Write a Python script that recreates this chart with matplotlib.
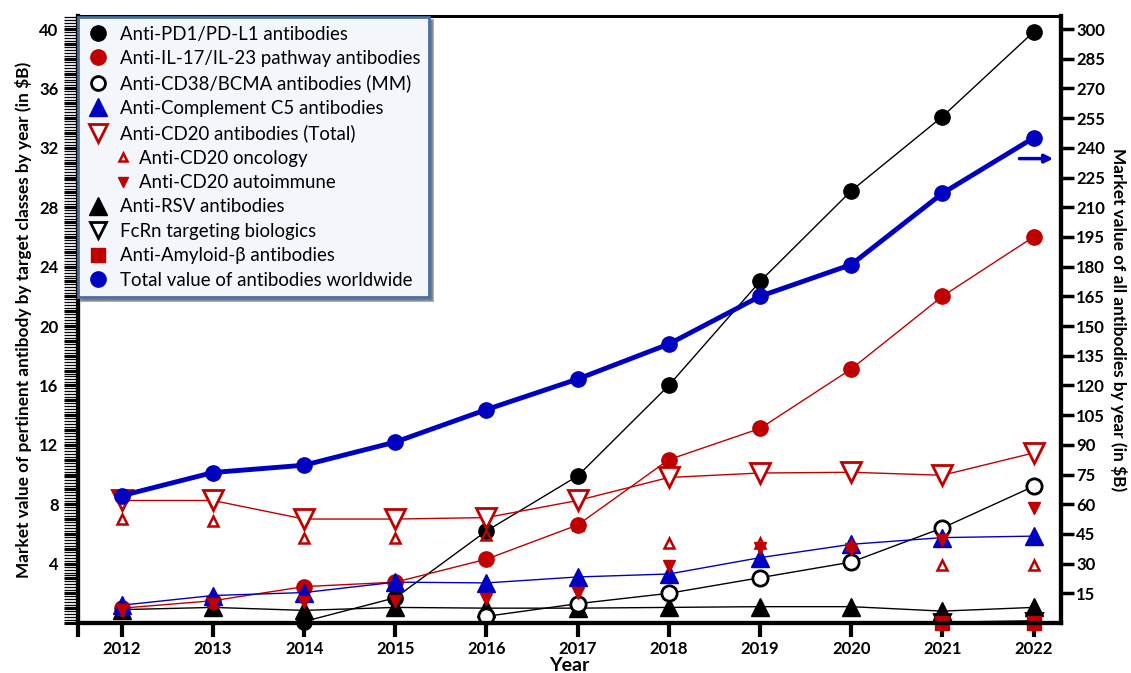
import numpy as np
import matplotlib.pyplot as plt
from matplotlib.lines import Line2D
from matplotlib.legend_handler import HandlerLine2D
from matplotlib.ticker import MultipleLocator, FuncFormatter

plt.rcParams['font.family'] = ['Lato', 'DejaVu Sans']

nan = np.nan
years = np.arange(2012, 2023)

# values in $B (left axis)
pd1 = [nan, nan, 0.1, 1.7, 6.2, 9.9, 16.0, 23.0, 29.1, 34.1, 39.8]
il17 = [1.0, 1.5, 2.45, 2.75, 4.3, 6.6, 11.0, 13.1, 17.1, 22.0, 26.0]
cd38 = [nan, nan, nan, nan, 0.45, 1.3, 2.0, 3.05, 4.1, 6.4, 9.2]
c5 = [1.2, 1.85, 2.05, 2.75, 2.7, 3.1, 3.3, 4.4, 5.3, 5.75, 5.85]
cd20_total = [8.25, 8.25, 7.0, 7.0, 7.1, 8.25, 9.8, 10.1, 10.15, 9.95, 11.45]
cd20_onc = [7.0, 6.85, 5.75, 5.7, 5.9, 6.6, 5.4, 5.4, 5.25, 3.9, 3.9]
cd20_auto = [0.9, 1.3, 1.4, 1.45, 1.6, 2.0, 3.85, 5.05, 5.0, 5.6, 7.75]
rsv = [0.9, 1.05, 0.85, 1.05, 1.0, 1.0, 1.05, 1.1, 1.1, 0.8, 1.05]
fcrn = [nan, nan, nan, nan, nan, nan, nan, nan, nan, 0.05, 0.15]
amyloid = [nan, nan, nan, nan, nan, nan, nan, nan, nan, 0.0, 0.0]
# right axis
total = [64.3, 76.0, 79.7, 91.4, 107.8, 123.2, 140.9, 165.0, 181.0, 217.0, 245.0]

RED = '#c00000'
BLUE = '#0000c0'

fig = plt.figure(figsize=(11.31, 6.73), dpi=100)
ax = fig.add_axes([0.069, 0.0743, 0.869, 0.902])
ax2 = ax.twinx()

kw = dict(clip_on=False)
ax.plot(years, rsv, '-^', color='k', lw=1, ms=13, **kw)
ax.plot(years, fcrn, '-v', color='k', mfc='none', mew=2, lw=1, ms=11, **kw)
ax.plot(years, amyloid, '-s', color=RED, lw=1.2, ms=10, **kw)
ax.plot(years, cd38, '-o', color='k', mfc='white', mew=2, lw=1, ms=11, **kw)
ax.plot(years, pd1, '-o', color='k', lw=1, ms=11, **kw)
ax.plot(years, il17, '-o', color=RED, lw=1, ms=11, **kw)
ax.plot(years, cd20_total, '-v', color=RED, mfc='white', mew=2, lw=1, ms=14, **kw)
ax.plot(years, c5, '-^', color=BLUE, lw=1, ms=13, **kw)
ax.plot(years, cd20_onc, '^', color=RED, mfc='none', mew=1.8, ms=7, **kw)
ax.plot(years, cd20_auto, 'v', color=RED, ms=8, **kw)
ax2.plot(years, total, '-o', color=BLUE, lw=3.5, ms=11, **kw)

ax.set_xlim(2011.52, 2022.3)
ax.set_ylim(0, 40.88)
ax2.set_ylim(0, 40.88 * 7.5)

ax.set_xticks(list(years) + [2011.52])
ax.set_xticklabels([str(y) for y in years] + [''])
ax.tick_params(axis='x', direction='out', length=10, width=3, pad=3, labelsize=12)

ax.yaxis.set_major_locator(MultipleLocator(1))
ax.yaxis.set_minor_locator(MultipleLocator(0.2))
ax.yaxis.set_major_formatter(FuncFormatter(lambda v, p: '%d' % v if v > 0 and int(round(v)) % 4 == 0 else ''))
ax.tick_params(axis='y', which='major', direction='out', length=10, width=2.2, pad=4, labelsize=12)
ax.tick_params(axis='y', which='minor', direction='out', length=10, width=0.9)

ax2.set_yticks(np.arange(15, 301, 15))
ax2.tick_params(axis='y', direction='out', length=9, width=2.5, pad=2, labelsize=12)

for a in (ax, ax2):
    for t in a.get_xticklabels() + a.get_yticklabels():
        t.set_fontweight('bold')
    for s in a.spines.values():
        s.set_linewidth(3)
        s.set_color('k')
ax.spines['top'].set_linewidth(2)
ax2.spines['top'].set_linewidth(2)

ax.set_xlabel('Year', fontsize=14, fontweight='bold', labelpad=0)
ax.set_ylabel('Market value of pertinent antibody by target classes by year (in $B)',
              fontsize=12.4, fontweight='bold', labelpad=5)
ax2.set_ylabel('Market value of all antibodies by year (in $B)',
               fontsize=12.4, fontweight='bold', rotation=270, labelpad=16)

ax2.annotate('', xy=(0.995, 0.765), xytext=(0.955, 0.765), xycoords='axes fraction',
             arrowprops=dict(arrowstyle='-|>', color=BLUE, lw=2.5, mutation_scale=12))


class IndentHandler(HandlerLine2D):
    def create_artists(self, legend, orig_handle, xdescent, ydescent, width, height, fontsize, trans):
        return super().create_artists(legend, orig_handle, xdescent - 18, ydescent,
                                      width, height, fontsize, trans)


def proxy(marker, color, ms, mfc=None, mew=1.0):
    return Line2D([], [], ls='none', marker=marker, color=color, ms=ms,
                  mfc=color if mfc is None else mfc, mew=mew)


h_onc = proxy('^', RED, 6, mfc='none', mew=1.8)
h_auto = proxy('v', RED, 7)
handles = [
    proxy('o', 'k', 11),
    proxy('o', RED, 11),
    proxy('o', 'k', 10, mfc='white', mew=2),
    proxy('^', BLUE, 13),
    proxy('v', RED, 13, mfc='white', mew=2),
    h_onc,
    h_auto,
    proxy('^', 'k', 13),
    proxy('v', 'k', 12, mfc='white', mew=2),
    proxy('s', RED, 10),
    proxy('o', BLUE, 11),
]
labels = [
    'Anti-PD1/PD-L1 antibodies',
    'Anti-IL-17/IL-23 pathway antibodies',
    'Anti-CD38/BCMA antibodies (MM)',
    'Anti-Complement C5 antibodies',
    'Anti-CD20 antibodies (Total)',
    '    Anti-CD20 oncology',
    '    Anti-CD20 autoimmune',
    'Anti-RSV antibodies',
    'FcRn targeting biologics',
    'Anti-Amyloid-\u03b2 antibodies',
    'Total value of antibodies worldwide',
]
leg = ax2.legend(handles, labels, loc='upper left', bbox_to_anchor=(0.0, 0.998),
                 borderaxespad=0, fontsize=13.4, labelspacing=0.4, handlelength=1.2,
                 handletextpad=0.6, borderpad=0.45, fancybox=False, shadow=True,
                 frameon=True, handler_map={h_onc: IndentHandler(), h_auto: IndentHandler()})
leg.get_frame().set_facecolor('#f3f7fb')
leg.get_frame().set_edgecolor('#4a6f9c')
leg.get_frame().set_linewidth(2)
leg.get_frame().set_alpha(1)

fig.savefig('out.png', dpi=100)
